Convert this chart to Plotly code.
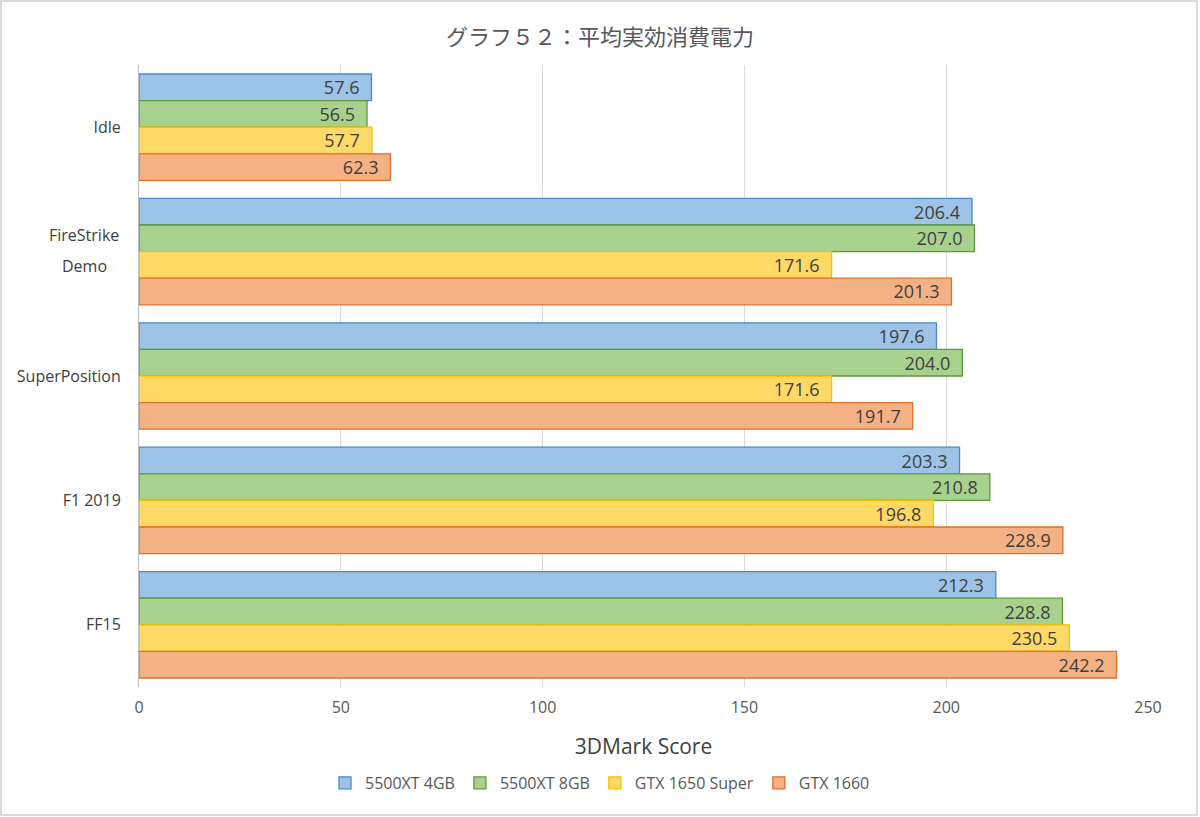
import plotly.graph_objects as go

categories = ["Idle", "FireStrike Demo", "SuperPosition", "F1 2019", "FF15"]
series_names = ["5500XT 4GB", "5500XT 8GB", "GTX 1650 Super", "GTX 1660"]
v_5500xt_4gb = [57.6, 206.4, 197.6, 203.3, 212.3]
v_5500xt_8gb = [56.5, 207.0, 204.0, 210.8, 228.8]
v_gtx1650s = [57.7, 171.6, 171.6, 196.8, 230.5]
v_gtx1660 = [62.3, 201.3, 191.7, 228.9, 242.2]
x_ticks = [0, 50, 100, 150, 200, 250]

values = [v_5500xt_4gb, v_5500xt_8gb, v_gtx1650s, v_gtx1660]
fills = ["#9DC3E6", "#A9D18E", "#FFD966", "#F4B183"]
lines = ["#4A8AC8", "#5E9A3A", "#F5C000", "#E0702A"]

FONT = "Open Sans, Noto Sans CJK JP, sans-serif"
W, H = 1200, 817
L, R, T, B = 139, 52, 65, 130
PW, PH = W - L - R, H - T - B

fig = go.Figure()
for name, vals, fc, lc in zip(series_names, values, fills, lines):
    fig.add_trace(go.Bar(
        y=categories, x=vals, name=name, orientation="h",
        marker=dict(color=fc, line=dict(color=lc, width=1.3)),
        text=[f"{v:.1f}\u2002" for v in vals], textposition="inside",
        insidetextanchor="end",
        textfont=dict(size=18, color="#404040", family=FONT),
        cliponaxis=False,
    ))

# two-line category label for FireStrike Demo drawn as annotations
annotations = [
    dict(text="FireStrike", xref="paper", yref="y", x=(84 - L) / PW, y=categories[1],
         xanchor="center", yanchor="middle", yshift=17, showarrow=False,
         font=dict(size=16, color="#404040", family=FONT)),
    dict(text="Demo", xref="paper", yref="y", x=(84 - L) / PW, y=categories[1],
         xanchor="center", yanchor="middle", yshift=-14, showarrow=False,
         font=dict(size=16, color="#404040", family=FONT)),
]
ticktext = [c if c != "FireStrike Demo" else "" for c in categories]

fig.update_layout(
    width=W, height=H, autosize=False,
    barmode="group", bargap=0.145, bargroupgap=0,
    paper_bgcolor="white", plot_bgcolor="white",
    margin=dict(l=L, r=R, t=T, b=B, autoexpand=False),
    title=dict(text="グラフ５２：平均実効消費電力", x=0.5, xanchor="center", xref="container",
               y=1 - 37 / H, yanchor="middle",
               font=dict(size=22, color="#595959", family=FONT)),
    font=dict(family=FONT, color="#595959"),
    uniformtext=dict(mode="show", minsize=18),
    xaxis=dict(range=[0, 250], tickvals=x_ticks, showgrid=True,
               gridcolor="#D9D9D9", gridwidth=1, zeroline=False,
               tickfont=dict(size=16, color="#595959"),
               title=dict(text="3DMark Score", font=dict(size=21, color="#404040"), standoff=22),
               ticks="", ticklabelstandoff=9,
               showline=False, automargin=False),
    yaxis=dict(autorange="reversed", showgrid=False, showline=True,
               linecolor="#BFBFBF", linewidth=1,
               tickmode="array", tickvals=categories, ticktext=ticktext,
               tickfont=dict(size=16, color="#404040"), ticks="", ticklabelstandoff=14,
               automargin=False),
    legend=dict(orientation="h", x=0.5, xanchor="center", xref="container",
                y=1 - 783 / H, yref="container", yanchor="middle",
                font=dict(size=16, color="#595959"), traceorder="normal"),
    annotations=annotations,
    shapes=[dict(type="rect", xref="paper", yref="paper",
                 x0=-(L - 1) / PW, x1=(1197 - L) / PW, y0=-(815 - (H - B)) / PH, y1=1 + (T - 1) / PH,
                 line=dict(color="#D0D0D0", width=1.5), fillcolor="rgba(0,0,0,0)", layer="below")],
)

fig.write_html("out.html", config={"displayModeBar": False},
               post_script="document.body.style.margin='0';document.body.style.overflow='hidden';")
